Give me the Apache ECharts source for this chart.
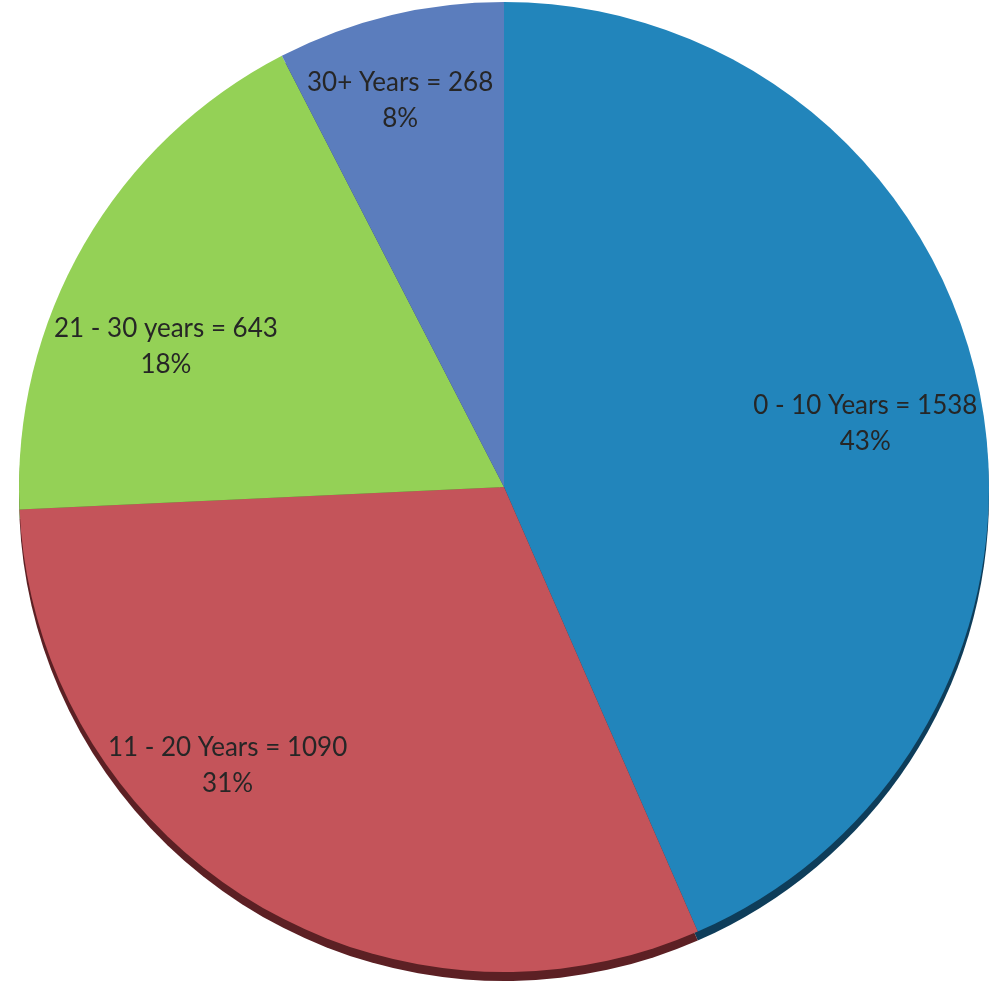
<!DOCTYPE html>
<html><head><meta charset="utf-8">
<script src="https://cdn.jsdelivr.net/npm/echarts@6/dist/echarts.min.js"></script>
<style>html,body{margin:0;padding:0;background:#fff}#c{width:995px;height:982px}</style>
</head><body><div id="c"></div>
<script>
const categories = ['0 - 10 Years', '11 - 20 Years', '21 - 30 years', '30+ Years'];
const values = [1538, 1090, 643, 268];
const percentLabels = ['43%', '31%', '18%', '8%'];
const faceColors = ['#2285bb', '#c4545a', '#94d156', '#5b7dbd'];
const rimColors = ['#0e3d5a', '#5c2024', '#4d6e2a', '#2d3e60'];
const labelNudge = [[-12, 14], [-75, -45], [-8, 50], [-14, -16]];

const center = [504, 487];
const R = 485;

const chart = echarts.init(document.getElementById('c'));
chart.setOption({
  animation: false,
  series: [
    {
      type: 'pie', silent: true, startAngle: 90, clockwise: true,
      center: [center[0], center[1] + 9], radius: R,
      label: {show: false}, labelLine: {show: false},
      data: values.map((v, i) => ({value: v, name: categories[i], itemStyle: {color: rimColors[i]}}))
    },
    {
      type: 'pie', silent: true, startAngle: 90, clockwise: true,
      center: center, radius: R,
      label: {show: false}, labelLine: {show: false},
      itemStyle: {borderWidth: 0},
      data: values.map((v, i) => ({value: v, name: categories[i], itemStyle: {color: faceColors[i]}}))
    },
    {
      type: 'pie', silent: true, startAngle: 90, clockwise: true,
      center: center, radius: [R * 0.56, R],
      itemStyle: {color: 'rgba(0,0,0,0)'},
      labelLine: {show: false},
      label: {
        show: true, position: 'inside',
        fontFamily: 'Lato', fontSize: 26, color: '#262626', lineHeight: 36,
        formatter: p => p.name + ' = ' + p.value + '\n' + percentLabels[p.dataIndex]
      },
      labelLayout: p => ({dx: labelNudge[p.dataIndex][0], dy: labelNudge[p.dataIndex][1]}),
      data: values.map((v, i) => ({value: v, name: categories[i]}))
    }
  ]
});
</script></body></html>
